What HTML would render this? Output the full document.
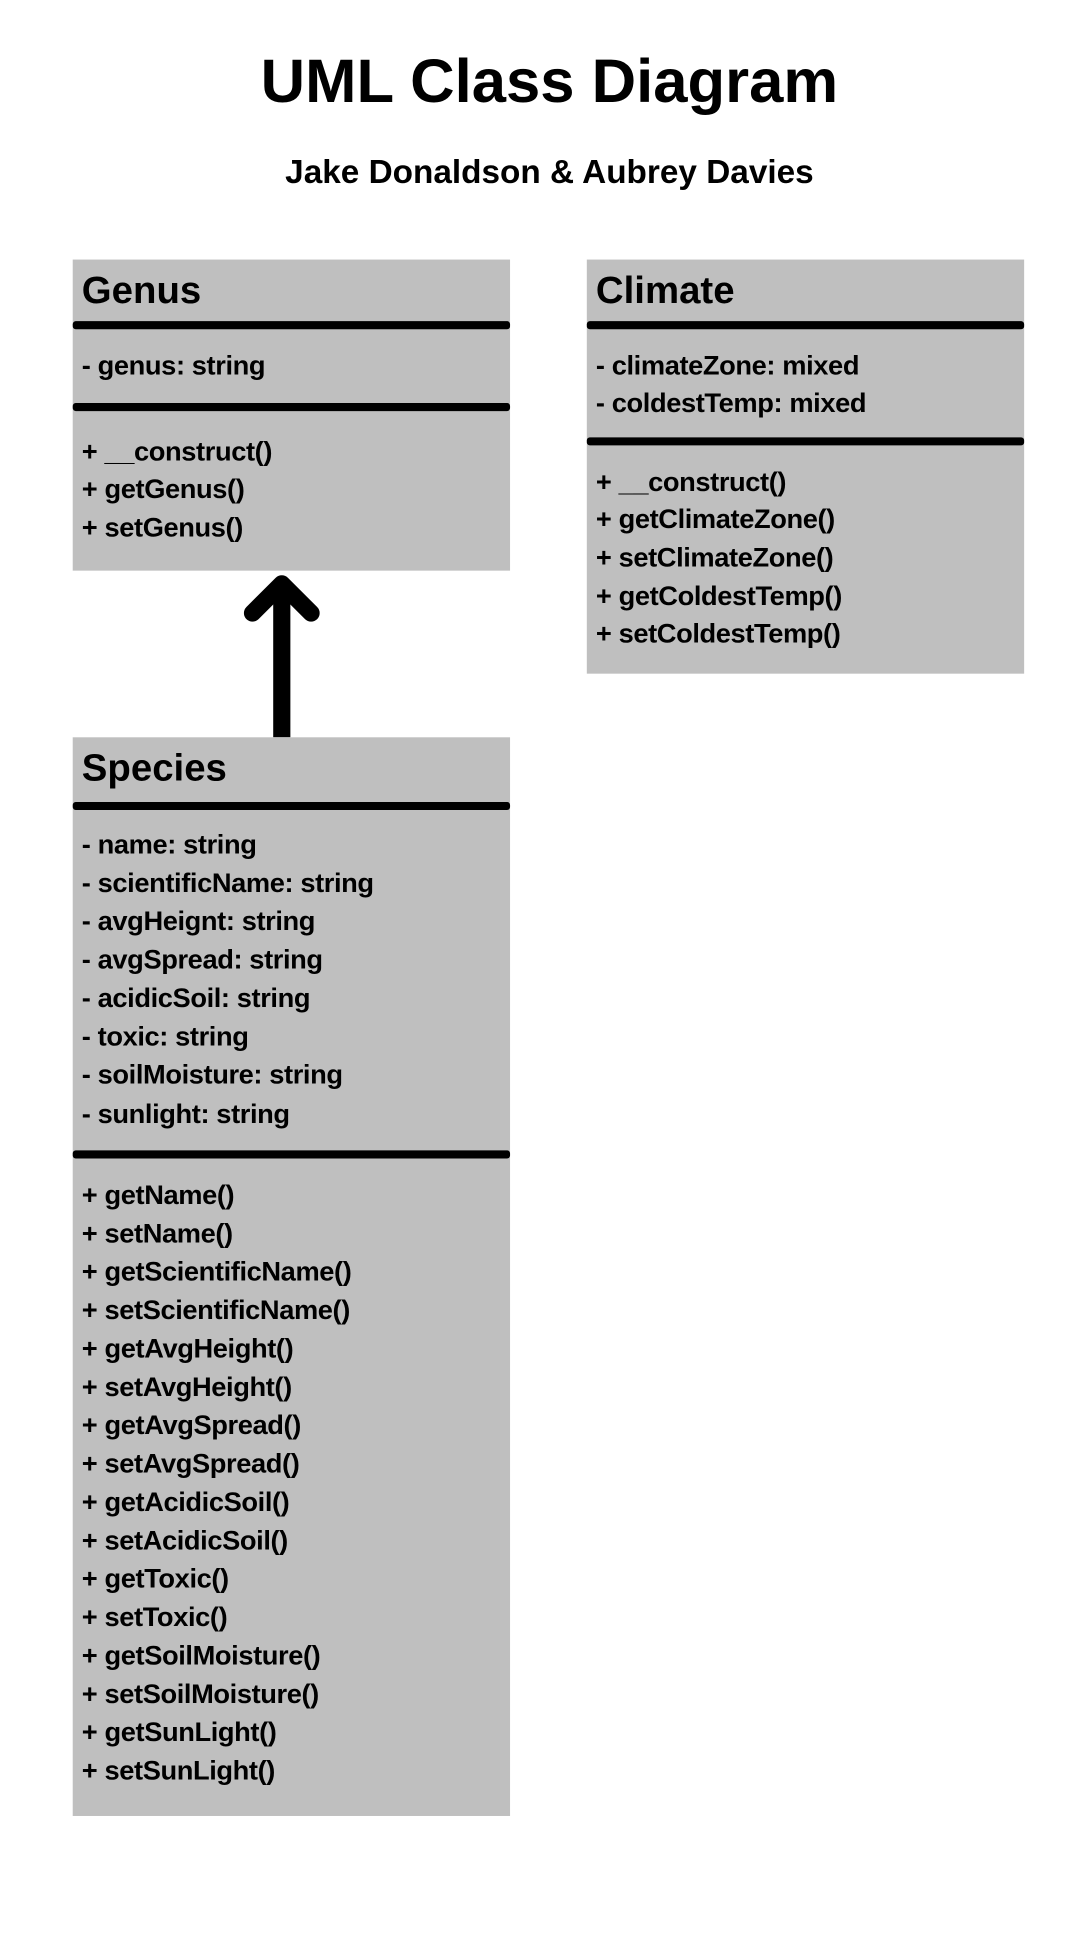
<!DOCTYPE html>
<html><head><meta charset="utf-8"><style>
body{margin:0;width:1080px;height:1920px;background:#fff;position:relative;overflow:hidden;font-family:"Liberation Sans",sans-serif;font-weight:bold;color:#000}
#w{position:absolute;left:0;top:0;width:1080px;height:1920px;transform:scale(1.01);transform-origin:0 0}
.t{position:absolute;white-space:nowrap;line-height:1}
.box{position:absolute;background:#bfbfbf}
.bar{position:absolute;background:#000;height:8px;border-radius:3px}
.h{position:absolute;left:9px;font-size:38px;line-height:40px}
.l{position:absolute;left:9px;font-size:27px;line-height:30px;letter-spacing:-0.4px;white-space:nowrap}
</style></head><body><div id="w">
<div class="t" style="left:0;width:1088px;text-align:center;top:50px;font-size:61px;">UML Class Diagram</div>
<div class="t" style="left:0;width:1088px;text-align:center;top:153px;font-size:33px;">Jake Donaldson &amp; Aubrey Davies</div>

<div class="box" style="left:72px;top:257px;width:433px;height:308px">
<div class="h" style="top:11px">Genus</div>
<div class="bar" style="left:0;right:0;top:61px"></div>
<div class="l" style="top:90px">- genus: string</div>
<div class="bar" style="left:0;right:0;top:142px"></div>
<div class="l" style="top:175px">+ __construct()</div>
<div class="l" style="top:212px">+ getGenus()</div>
<div class="l" style="top:250px">+ setGenus()</div>
</div>

<div class="box" style="left:581px;top:257px;width:433px;height:410px">
<div class="h" style="top:11px">Climate</div>
<div class="bar" style="left:0;right:0;top:61px"></div>
<div class="l" style="top:90px">- climateZone: mixed</div>
<div class="l" style="top:127px">- coldestTemp: mixed</div>
<div class="bar" style="left:0;right:0;top:176px"></div>
<div class="l" style="top:205px">+ __construct()</div>
<div class="l" style="top:242px">+ getClimateZone()</div>
<div class="l" style="top:280px">+ setClimateZone()</div>
<div class="l" style="top:318px">+ getColdestTemp()</div>
<div class="l" style="top:355px">+ setColdestTemp()</div>
</div>

<svg style="position:absolute;left:0;top:0" width="1080" height="1920">
<line x1="279" y1="730" x2="279" y2="580" stroke="#000" stroke-width="17"/>
<polyline points="250,607 279,578 308,607" fill="none" stroke="#000" stroke-width="17" stroke-linecap="round" stroke-linejoin="round"/>
</svg>

<div class="box" style="left:72px;top:730px;width:433px;height:1068px">
<div class="h" style="top:11px">Species</div>
<div class="bar" style="left:0;right:0;top:64px"></div>
<div class="l" style="top:91px">- name: string</div>
<div class="l" style="top:129px">- scientificName: string</div>
<div class="l" style="top:167px">- avgHeignt: string</div>
<div class="l" style="top:205px">- avgSpread: string</div>
<div class="l" style="top:243px">- acidicSoil: string</div>
<div class="l" style="top:281px">- toxic: string</div>
<div class="l" style="top:319px">- soilMoisture: string</div>
<div class="l" style="top:358px">- sunlight: string</div>
<div class="bar" style="left:0;right:0;top:409px"></div>
<div class="l" style="top:438px">+ getName()</div>
<div class="l" style="top:476px">+ setName()</div>
<div class="l" style="top:514px">+ getScientificName()</div>
<div class="l" style="top:552px">+ setScientificName()</div>
<div class="l" style="top:590px">+ getAvgHeight()</div>
<div class="l" style="top:628px">+ setAvgHeight()</div>
<div class="l" style="top:666px">+ getAvgSpread()</div>
<div class="l" style="top:704px">+ setAvgSpread()</div>
<div class="l" style="top:742px">+ getAcidicSoil()</div>
<div class="l" style="top:780px">+ setAcidicSoil()</div>
<div class="l" style="top:818px">+ getToxic()</div>
<div class="l" style="top:856px">+ setToxic()</div>
<div class="l" style="top:894px">+ getSoilMoisture()</div>
<div class="l" style="top:932px">+ setSoilMoisture()</div>
<div class="l" style="top:970px">+ getSunLight()</div>
<div class="l" style="top:1008px">+ setSunLight()</div>
</div>
</div></body></html>
